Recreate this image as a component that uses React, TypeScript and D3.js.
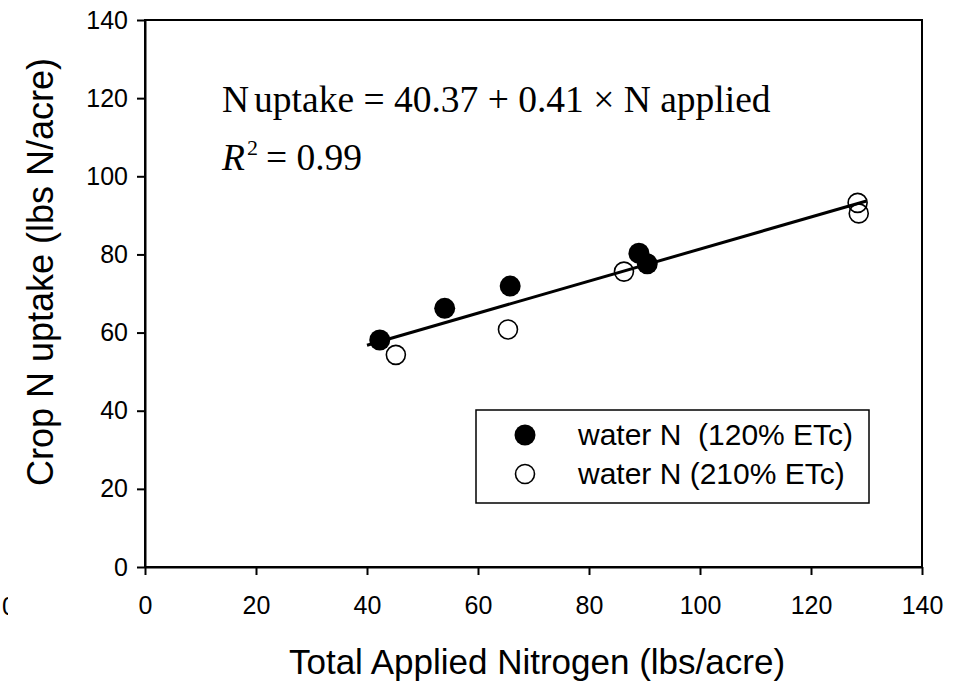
import React from "react";
import * as d3 from "d3";

// series
const wnLowX = [42.3, 54.0, 65.8, 89.0, 90.5];
const wnLowY = [58.1, 66.2, 71.9, 80.3, 77.6];
const wnHighX = [45.2, 65.4, 86.3, 128.4, 128.6];
const wnHighY = [54.3, 60.8, 75.6, 93.2, 90.5];
const fitIntercept = 40.37;
const fitSlope = 0.41;
const fitRange = [40, 130];
const xTicks = [0, 20, 40, 60, 80, 100, 120, 140];
const yTicks = [0, 20, 40, 60, 80, 100, 120, 140];
const legendLabels = ["water N  (120% ETc)", "water N (210% ETc)"];

const App = () => {
  const svgRef = React.useRef<SVGSVGElement | null>(null);
  const W = 967;
  const H = 683;
  const margin = { left: 145, top: 20, right: 45, bottom: 116 };
  const width = W - margin.left - margin.right;
  const height = H - margin.top - margin.bottom;

  React.useEffect(() => {
    const xScale = d3.scaleLinear().domain([0, 140]).range([0, width]);
    const yScale = d3.scaleLinear().domain([0, 140]).range([height, 0]);

    const svgEl = d3.select(svgRef.current);
    svgEl.selectAll("*").remove();
    const sans = "Arial, 'Liberation Sans', sans-serif";
    const serif = "'Times New Roman', 'Liberation Serif', serif";

    const svg = svgEl
      .append("g")
      .attr("transform", `translate(${margin.left},${margin.top})`);

    // frame (top + right)
    svg.append("rect")
      .attr("width", width)
      .attr("height", height)
      .attr("fill", "none")
      .attr("stroke", "#000")
      .attr("stroke-width", 2);

    const xAxis = d3.axisBottom(xScale)
      .tickValues(xTicks)
      .tickSize(8)
      .tickSizeOuter(0)
      .tickPadding(21);
    const xg = svg.append("g")
      .attr("transform", `translate(0, ${height})`)
      .call(xAxis);
    xg.selectAll("text").attr("font-size", 25).attr("font-family", sans).attr("fill", "#000");

    const yAxis = d3.axisLeft(yScale)
      .tickValues(yTicks)
      .tickSize(8)
      .tickSizeOuter(0)
      .tickPadding(9);
    const yg = svg.append("g").call(yAxis);
    yg.selectAll("text").attr("font-size", 25).attr("font-family", sans).attr("fill", "#000");

    [xg, yg].forEach((g) => {
      g.selectAll("path, line").attr("stroke", "#000").attr("stroke-width", 2);
    });

    // open circles
    svg.selectAll(".open")
      .data(wnHighX.map((x, i) => ({ x, y: wnHighY[i] })))
      .enter()
      .append("circle")
      .attr("cx", (d) => xScale(d.x))
      .attr("cy", (d) => yScale(d.y))
      .attr("r", 9.5)
      .attr("fill", "none")
      .attr("stroke", "#000")
      .attr("stroke-width", 1.6);

    // regression line
    const line = d3.line<number>()
      .x((d) => xScale(d))
      .y((d) => yScale(fitIntercept + fitSlope * d));
    svg.append("path")
      .attr("d", line(fitRange))
      .attr("fill", "none")
      .attr("stroke", "#000")
      .attr("stroke-width", 3);

    // filled circles
    svg.selectAll(".filled")
      .data(wnLowX.map((x, i) => ({ x, y: wnLowY[i] })))
      .enter()
      .append("circle")
      .attr("cx", (d) => xScale(d.x))
      .attr("cy", (d) => yScale(d.y))
      .attr("r", 10.5)
      .attr("fill", "#000");

    // equation
    const eq = svgEl.append("text")
      .attr("x", 222)
      .attr("y", 112)
      .attr("font-family", serif)
      .attr("font-size", 37.5);
    eq.append("tspan").text("N");
    eq.append("tspan").attr("dx", 5).text("uptake = 40.37 + 0.41 × N applied");
    const r2 = svgEl.append("text")
      .attr("x", 222)
      .attr("y", 170)
      .attr("font-family", serif)
      .attr("font-size", 37.5);
    r2.append("tspan").attr("font-style", "italic").text("R");
    r2.append("tspan").attr("font-size", 22).attr("dy", -15).attr("dx", 2).text("2");
    r2.append("tspan").attr("dy", 15).attr("dx", 8).text("= 0.99");

    // legend
    const lg = svgEl.append("g");
    lg.append("rect")
      .attr("x", 476)
      .attr("y", 410)
      .attr("width", 393)
      .attr("height", 93)
      .attr("fill", "#fff")
      .attr("stroke", "#000")
      .attr("stroke-width", 1.5);
    const rows = [435, 474];
    rows.forEach((cy, i) => {
      lg.append("circle")
        .attr("cx", 525)
        .attr("cy", cy)
        .attr("r", i === 0 ? 10.5 : 9.5)
        .attr("fill", i === 0 ? "#000" : "none")
        .attr("stroke", i === 0 ? "none" : "#000")
        .attr("stroke-width", 1.6);
      lg.append("text")
        .attr("x", 578)
        .attr("y", cy + 10)
        .attr("font-family", sans)
        .attr("font-size", 30)
        .style("white-space", "pre")
        .text(legendLabels[i]);
    });

    // axis titles
    svgEl.append("text")
      .attr("x", 537)
      .attr("y", 674)
      .attr("text-anchor", "middle")
      .attr("font-family", sans)
      .attr("font-size", 35)
      .text("Total Applied Nitrogen (lbs/acre)");
    svgEl.append("text")
      .attr("transform", `translate(53, 272) rotate(-90)`)
      .attr("text-anchor", "middle")
      .attr("font-family", sans)
      .attr("font-size", 36)
      .text("Crop N uptake (lbs N/acre)");

    // stray clipped label at the far left edge
    const clip = svgEl.append("clipPath").attr("id", "edgeclip");
    clip.append("rect").attr("x", 0).attr("y", 560).attr("width", 8).attr("height", 80);
    svgEl.append("text")
      .attr("x", 2)
      .attr("y", 615)
      .attr("clip-path", "url(#edgeclip)")
      .attr("font-family", sans)
      .attr("font-size", 25)
      .text("0");
  }, []);

  return (
    <svg
      ref={svgRef}
      width={W}
      height={H}
      style={{ position: "absolute", left: 0, top: 0, background: "#fff" }}
    />
  );
};

export default App;
